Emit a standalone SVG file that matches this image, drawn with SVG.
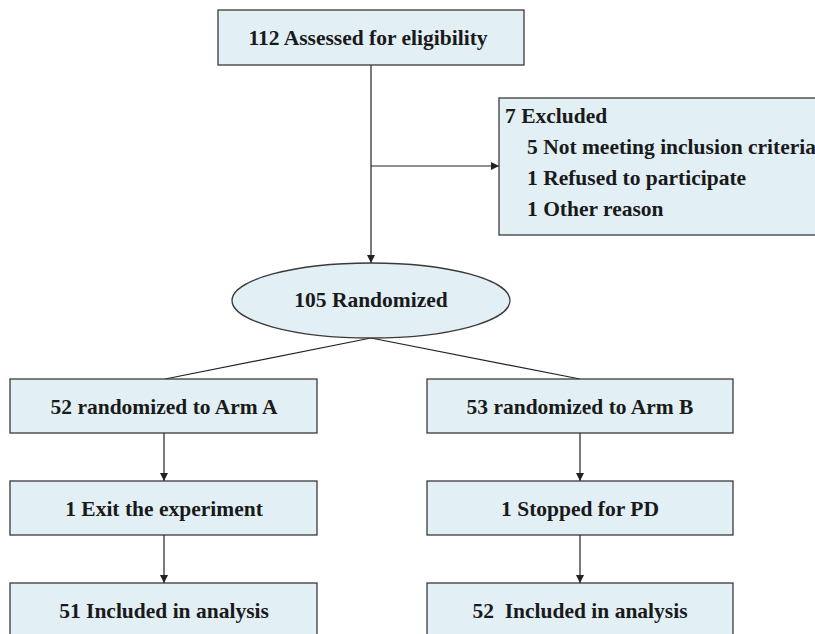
<svg xmlns="http://www.w3.org/2000/svg" width="815" height="634" viewBox="0 0 815 634">
<defs>
<style>
.box{fill:#E2F0F6;stroke:#3a3a3a;stroke-width:1.3}
text{font-family:'Liberation Serif','Times New Roman',serif;font-weight:700;font-size:21.5px;fill:#1a1a1a}
.c{text-anchor:middle}
.ln{stroke:#222;stroke-width:1.2;fill:none}
</style>
<marker id="ah" viewBox="0 0 10 10" refX="10" refY="5" markerWidth="8" markerHeight="8" orient="auto" markerUnits="userSpaceOnUse">
<path d="M0,0 L10,5 L0,10 z" fill="#222"/>
</marker>
</defs>
<rect width="815" height="634" fill="#fff"/>
<g id="connectors">
<line class="ln" x1="371" y1="65" x2="371" y2="263" marker-end="url(#ah)"/>
<line class="ln" x1="371" y1="166" x2="499" y2="166" marker-end="url(#ah)"/>
<line class="ln" x1="371" y1="338" x2="165" y2="379"/>
<line class="ln" x1="371" y1="338" x2="580" y2="379"/>
<line class="ln" x1="164" y1="433" x2="164" y2="481" marker-end="url(#ah)"/>
<line class="ln" x1="164" y1="535" x2="164" y2="583" marker-end="url(#ah)"/>
<line class="ln" x1="580" y1="433" x2="580" y2="481" marker-end="url(#ah)"/>
<line class="ln" x1="580" y1="535" x2="580" y2="583" marker-end="url(#ah)"/>
</g>
<g id="assessed">
<rect class="box" x="218" y="10" width="306" height="55"/>
<text class="c" x="368" y="45">112 Assessed for eligibility</text>
</g>
<g id="excluded">
<rect class="box" x="499" y="98" width="330" height="137"/>
<text x="505" y="123">7 Excluded</text>
<text x="527" y="154">5 Not meeting inclusion criteria</text>
<text x="527" y="185">1 Refused to participate</text>
<text x="527" y="216">1 Other reason</text>
</g>
<g id="randomized">
<ellipse class="box" cx="371" cy="300.5" rx="139" ry="37.5"/>
<text class="c" x="371" y="307">105 Randomized</text>
</g>
<g id="armA">
<rect class="box" x="10" y="379" width="307" height="54"/>
<text class="c" x="164" y="414">52 randomized to Arm A</text>
</g>
<g id="exitA">
<rect class="box" x="10" y="481" width="307" height="54"/>
<text class="c" x="164" y="516">1 Exit the experiment</text>
</g>
<g id="inclA">
<rect class="box" x="10" y="583" width="307" height="60"/>
<text class="c" x="164" y="618">51 Included in analysis</text>
</g>
<g id="armB">
<rect class="box" x="427" y="379" width="306" height="54"/>
<text class="c" x="580" y="414">53 randomized to Arm B</text>
</g>
<g id="stopB">
<rect class="box" x="427" y="481" width="306" height="54"/>
<text class="c" x="580" y="516">1 Stopped for PD</text>
</g>
<g id="inclB">
<rect class="box" x="427" y="583" width="306" height="60"/>
<text class="c" x="580" y="618" xml:space="preserve">52  Included in analysis</text>
</g>
</svg>
